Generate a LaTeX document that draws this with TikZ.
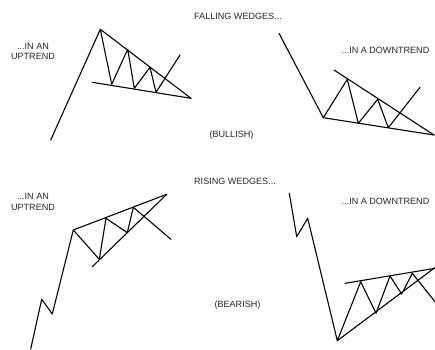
\documentclass[tikz,border=0pt]{standalone}
\usepackage{fontspec}
\setmainfont{Liberation Sans}
\begin{document}
\begin{tikzpicture}[x=1bp,y=-1bp,
  trend/.style={line width=1.1pt,line join=round,line cap=round},
  label/.style={font=\fontsize{9.1}{10.5}\selectfont,inner sep=0pt,align=center,text=black!85}]
\useasboundingbox (0,0) rectangle (435,349);
% ---------- Panel 1: falling wedge in an uptrend ----------
\coordinate (a0) at (50.7,140);
\coordinate (a1) at (100.3,29.3);
\coordinate (a2) at (111.7,84.3);
\coordinate (a3) at (127.7,49.3);
\coordinate (a4) at (134.3,88.3);
\coordinate (a5) at (150,67.3);
\coordinate (a6) at (156,92.3);
\coordinate (a7) at (180,55);
\coordinate (aL) at (92.3,82.3);
\coordinate (aE) at (191,98.3);
\draw[trend] (a0) -- (a1) -- (a2) -- (a3) -- (a4) -- (a5) -- (a6) -- (a7);
\draw[trend] (a1) -- (aE);
\draw[trend] (aL) -- (aE);
% ---------- Panel 2: falling wedge in a downtrend ----------
\coordinate (b0) at (279,33.3);
\coordinate (b1) at (323.3,117.7);
\coordinate (b2) at (347.3,79.3);
\coordinate (b3) at (358.3,123.3);
\coordinate (b4) at (377.7,99.3);
\coordinate (b5) at (388.3,127.7);
\coordinate (b6) at (420,87.3);
\coordinate (bU) at (334,70);
\coordinate (bE) at (434,135);
\draw[trend] (b0) -- (b1) -- (b2) -- (b3) -- (b4) -- (b5) -- (b6);
\draw[trend] (b1) -- (bE);
\draw[trend] (bU) -- (bE);
% ---------- Panel 3: rising wedge in an uptrend ----------
\coordinate (c0) at (30.7,349);
\coordinate (c1) at (41.7,299.3);
\coordinate (c2) at (52.3,314);
\coordinate (c3) at (73.3,230);
\coordinate (c4) at (99.3,259.3);
\coordinate (c5) at (106,218.3);
\coordinate (c6) at (127.3,232.7);
\coordinate (c7) at (133.3,207.3);
\coordinate (c8) at (171,239.3);
\coordinate (cL) at (92.3,266.7);
\coordinate (cE) at (166.7,194.3);
\draw[trend] (c0) -- (c1) -- (c2) -- (c3) -- (c4) -- (c5) -- (c6) -- (c7) -- (c8);
\draw[trend] (c3) -- (cE);
\draw[trend] (cL) -- (cE);
% ---------- Panel 4: rising wedge in a downtrend ----------
\coordinate (d0) at (289.3,193.3);
\coordinate (d1) at (296.7,236.7);
\coordinate (d2) at (307.7,218.3);
\coordinate (d3) at (337.3,340.7);
\coordinate (d4) at (360.7,281.7);
\coordinate (d5) at (376,313.3);
\coordinate (d6) at (390,276);
\coordinate (d7) at (401.7,294);
\coordinate (d8) at (412.3,273.3);
\coordinate (d9) at (435,301.7);
\coordinate (dU) at (345,283.3);
\coordinate (dE) at (435,268.3);
\coordinate (dF) at (435,267.5);
\draw[trend] (d0) -- (d1) -- (d2) -- (d3) -- (d4) -- (d5) -- (d6) -- (d7) -- (d8) -- (d9);
\draw[trend] (dU) -- (dE);
\draw[trend] (d3) -- (dF);
% ---------- Labels ----------
\node[label] (t1) at (238,16) {FALLING WEDGES...};
\node[label] (t2) at (33,51.5) {...IN AN\\UPTREND};
\node[label] (t3) at (385.5,50) {...IN A DOWNTREND};
\node[label] (t4) at (231.5,135) {(BULLISH)};
\node[label] (t5) at (235,181) {RISING WEDGES...};
\node[label] (t6) at (33,202) {...IN AN\\UPTREND};
\node[label] (t7) at (385.5,201.5) {...IN A DOWNTREND};
\node[label] (t8) at (237.5,305) {(BEARISH)};
\end{tikzpicture}
\end{document}
